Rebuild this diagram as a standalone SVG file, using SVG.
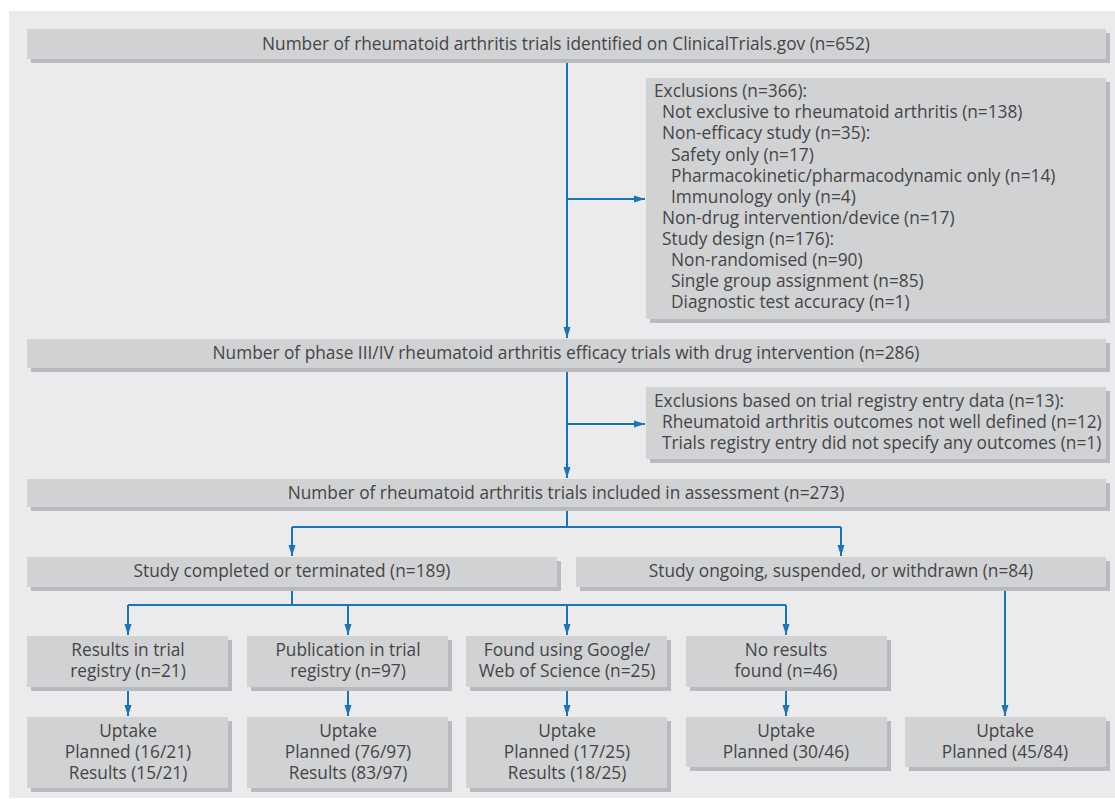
<svg xmlns="http://www.w3.org/2000/svg" width="1115" height="799" viewBox="0 0 1115 799">
<style>
.box{fill:#d1d2d4}
.sh{fill:#b9babd}
text{font-family:"Open Sans","Liberation Sans",sans-serif;font-size:17.3px;fill:#454547}
.c{text-anchor:middle}
.ln{fill:none;stroke:#1a74bb;stroke-width:2}
</style>
<defs>
<marker id="ah" markerUnits="userSpaceOnUse" markerWidth="12" markerHeight="8" refX="11" refY="4" orient="auto">
<path d="M0,0.5 L11,4 L0,7.5 z" fill="#1a74bb"/>
</marker>
</defs>
<rect x="0" y="0" width="1115" height="799" fill="#ffffff"/>
<rect x="9" y="11" width="1106" height="787" fill="#ebebed"/>

<g id="connectors">
<path class="ln" d="M567,59 V338" marker-end="url(#ah)"/>
<path class="ln" d="M567,199 H645" marker-end="url(#ah)"/>
<path class="ln" d="M567,368 V478" marker-end="url(#ah)"/>
<path class="ln" d="M567,424 H645" marker-end="url(#ah)"/>
<path class="ln" d="M567,507 V527"/>
<path class="ln" d="M292,527 H841"/>
<path class="ln" d="M292,527 V556" marker-end="url(#ah)"/>
<path class="ln" d="M841,527 V556" marker-end="url(#ah)"/>
<path class="ln" d="M292,587 V605"/>
<path class="ln" d="M128,605 H786"/>
<path class="ln" d="M128,605 V635" marker-end="url(#ah)"/>
<path class="ln" d="M348,605 V635" marker-end="url(#ah)"/>
<path class="ln" d="M567,605 V635" marker-end="url(#ah)"/>
<path class="ln" d="M786,605 V635" marker-end="url(#ah)"/>
<path class="ln" d="M128,687 V716" marker-end="url(#ah)"/>
<path class="ln" d="M348,687 V716" marker-end="url(#ah)"/>
<path class="ln" d="M567,687 V716" marker-end="url(#ah)"/>
<path class="ln" d="M786,687 V716" marker-end="url(#ah)"/>
<path class="ln" d="M1005,587 V716" marker-end="url(#ah)"/>
</g>

<g id="n-identified">
<rect class="sh" x="31" y="33" width="1079" height="30"/>
<rect class="box" x="27" y="29" width="1079" height="30"/>
<text class="c" x="566" y="50">Number of rheumatoid arthritis trials identified on ClinicalTrials.gov (n=652)</text>
</g>

<g id="n-exclusions1">
<rect class="sh" x="650" y="82" width="460" height="241"/>
<rect class="box" x="646" y="78" width="460" height="241"/>
<text x="654" y="97">Exclusions (n=366):</text>
<text x="662" y="118">Not exclusive to rheumatoid arthritis (n=138)</text>
<text x="662" y="139">Non-efficacy study (n=35):</text>
<text x="671" y="161">Safety only (n=17)</text>
<text x="671" y="182">Pharmacokinetic/pharmacodynamic only (n=14)</text>
<text x="671" y="203">Immunology only (n=4)</text>
<text x="662" y="224">Non-drug intervention/device (n=17)</text>
<text x="662" y="245">Study design (n=176):</text>
<text x="671" y="266">Non-randomised (n=90)</text>
<text x="671" y="287">Single group assignment (n=85)</text>
<text x="671" y="308">Diagnostic test accuracy (n=1)</text>
</g>

<g id="n-phase">
<rect class="sh" x="31" y="343" width="1079" height="29"/>
<rect class="box" x="27" y="339" width="1079" height="29"/>
<text class="c" x="566" y="359">Number of phase III/IV rheumatoid arthritis efficacy trials with drug intervention (n=286)</text>
</g>

<g id="n-exclusions2">
<rect class="sh" x="650" y="391" width="460" height="72"/>
<rect class="box" x="646" y="387" width="460" height="72"/>
<text x="654" y="407">Exclusions based on trial registry entry data (n=13):</text>
<text x="662" y="428">Rheumatoid arthritis outcomes not well defined (n=12)</text>
<text x="662" y="449">Trials registry entry did not specify any outcomes (n=1)</text>
</g>

<g id="n-included">
<rect class="sh" x="31" y="483" width="1079" height="28"/>
<rect class="box" x="27" y="479" width="1079" height="28"/>
<text class="c" x="566" y="499">Number of rheumatoid arthritis trials included in assessment (n=273)</text>
</g>

<g id="n-completed">
<rect class="sh" x="31" y="561" width="530" height="30"/>
<rect class="box" x="27" y="557" width="530" height="30"/>
<text class="c" x="292" y="577">Study completed or terminated (n=189)</text>
</g>

<g id="n-ongoing">
<rect class="sh" x="580" y="561" width="530" height="30"/>
<rect class="box" x="576" y="557" width="530" height="30"/>
<text class="c" x="841" y="577">Study ongoing, suspended, or withdrawn (n=84)</text>
</g>

<g id="n-results-registry">
<rect class="sh" x="31" y="640" width="201" height="51"/>
<rect class="box" x="27" y="636" width="201" height="51"/>
<text class="c" x="128" y="656">Results in trial</text>
<text class="c" x="128" y="677">registry (n=21)</text>
</g>

<g id="n-publication-registry">
<rect class="sh" x="251" y="640" width="201" height="51"/>
<rect class="box" x="247" y="636" width="201" height="51"/>
<text class="c" x="348" y="656">Publication in trial</text>
<text class="c" x="348" y="677">registry (n=97)</text>
</g>

<g id="n-google">
<rect class="sh" x="470" y="640" width="201" height="51"/>
<rect class="box" x="466" y="636" width="201" height="51"/>
<text class="c" x="567" y="656">Found using Google/</text>
<text class="c" x="567" y="677">Web of Science (n=25)</text>
</g>

<g id="n-noresults">
<rect class="sh" x="690" y="640" width="201" height="51"/>
<rect class="box" x="686" y="636" width="201" height="51"/>
<text class="c" x="786" y="656">No results</text>
<text class="c" x="786" y="677">found (n=46)</text>
</g>

<g id="n-uptake1">
<rect class="sh" x="31" y="721" width="201" height="71"/>
<rect class="box" x="27" y="717" width="201" height="71"/>
<text class="c" x="128" y="737">Uptake</text>
<text class="c" x="128" y="758">Planned (16/21)</text>
<text class="c" x="128" y="779">Results (15/21)</text>
</g>

<g id="n-uptake2">
<rect class="sh" x="251" y="721" width="201" height="71"/>
<rect class="box" x="247" y="717" width="201" height="71"/>
<text class="c" x="348" y="737">Uptake</text>
<text class="c" x="348" y="758">Planned (76/97)</text>
<text class="c" x="348" y="779">Results (83/97)</text>
</g>

<g id="n-uptake3">
<rect class="sh" x="470" y="721" width="201" height="71"/>
<rect class="box" x="466" y="717" width="201" height="71"/>
<text class="c" x="567" y="737">Uptake</text>
<text class="c" x="567" y="758">Planned (17/25)</text>
<text class="c" x="567" y="779">Results (18/25)</text>
</g>

<g id="n-uptake4">
<rect class="sh" x="690" y="721" width="201" height="50"/>
<rect class="box" x="686" y="717" width="201" height="50"/>
<text class="c" x="786" y="737">Uptake</text>
<text class="c" x="786" y="758">Planned (30/46)</text>
</g>

<g id="n-uptake5">
<rect class="sh" x="909" y="721" width="201" height="50"/>
<rect class="box" x="905" y="717" width="201" height="50"/>
<text class="c" x="1005" y="737">Uptake</text>
<text class="c" x="1005" y="758">Planned (45/84)</text>
</g>
</svg>
